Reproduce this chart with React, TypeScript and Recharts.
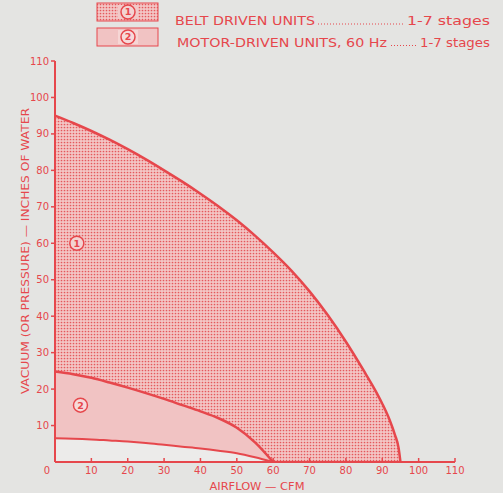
import React from 'react';
import { ComposedChart, Area, XAxis, YAxis, ReferenceDot, Label } from 'recharts';

// Airflow (CFM) sample points shared by every performance envelope
const airflow = [0, 5, 10, 15, 20, 25, 30, 35, 40, 45, 50, 55, 60, 65, 70, 75, 80, 85, 88, 90, 92, 93.5, 94.5, 95];

// Belt driven units, 1-7 stages: upper limit of vacuum/pressure (inches of water)
const beltDriven = [95, 93.0, 90.8, 88.4, 85.8, 83.0, 80.0, 76.9, 73.6, 70.1, 66.3, 62.1, 57.5, 52.5, 46.8, 40.3, 33.0, 24.9, 19.8, 16.0, 11.6, 7.4, 3.8, 0];

// Motor-driven units, 60 Hz: upper and lower limits of the band
const motorUpper = [24.8, 24.1, 23.1, 21.8, 20.4, 18.9, 17.3, 15.6, 13.9, 12.0, 9.4, 5.4, 0, null, null, null, null, null, null, null, null, null, null, null];
const motorLower = [6.5, 6.4, 6.2, 5.9, 5.6, 5.2, 4.7, 4.2, 3.7, 3.1, 2.4, 1.3, 0, null, null, null, null, null, null, null, null, null, null, null];

const xTicks = [0, 10, 20, 30, 40, 50, 60, 70, 80, 90, 100, 110];
const yTicks = [10, 20, 30, 40, 50, 60, 70, 80, 90, 100, 110];

const legendRows = [
  { mark: '1', title: 'BELT DRIVEN UNITS', stages: '1-7 stages', fill: 'url(#beltDots)' },
  { mark: '2', title: 'MOTOR-DRIVEN UNITS, 60 Hz', stages: '1-7 stages', fill: '#f1c3c3' },
];

const regionMarks = [
  { mark: '1', x: 6, y: 60 },
  { mark: '2', x: 7, y: 15.6 },
];

const data = airflow.map((x, i) => ({
  x,
  belt: beltDriven[i],
  motorUpper: motorUpper[i],
  motorLower: motorLower[i],
}));

const RED = '#e6474c';
const FONT = '"DejaVu Sans", Verdana, sans-serif';
const PAPER = '#e4e4e2';

// legend text geometry per row: title start/width, leader start, stages start/width
const legendGeom = [
  { titleX: 175, titleW: 140, leadFrom: 318, stagesX: 407, stagesW: 83 },
  { titleX: 177, titleW: 210, leadFrom: 391, stagesX: 420, stagesW: 70 },
];

const XTick = (props: any) => {
  const { x, y, payload } = props;
  const v = payload.value;
  return (
    <g>
      {v > 0 && <line x1={x} x2={x} y1={y - 5} y2={y - 9} stroke={RED} strokeWidth={1.5} />}
      <text x={v === 0 ? x - 8 : x} y={y} dy="0.71em" textAnchor="middle" fill={RED} fontSize={10} fontFamily={FONT}>
        {v}
      </text>
    </g>
  );
};

const CircledMark = ({ cx, cy, mark, fill }: any) => (
  <g>
    <circle cx={cx} cy={cy} r={7} fill={fill} stroke={RED} strokeWidth={1.5} />
    <text x={cx} y={cy} dy="0.36em" textAnchor="middle" fill={RED} fontSize={9.5} fontWeight="bold" fontFamily={FONT}>
      {mark}
    </text>
  </g>
);

const LegendBlock = () => (
  <g>
    {legendRows.map((r, i) => {
      const g = legendGeom[i];
      const top = 3 + i * 25;
      const mid = top + 9;
      const textY = 20.5 + i * 21.5;
      return (
        <g key={r.mark}>
          <rect x={97} y={top} width={61} height={18} fill={r.fill} stroke={RED} strokeWidth={1} />
          <rect x={118} y={mid - 7} width={20} height={14} fill={i === 0 ? '#f1c9c8' : '#f6d6d5'} stroke="none" />
          <CircledMark cx={128} cy={mid} mark={r.mark} fill={i === 0 ? '#f3d3d2' : '#f6dada'} />
          <text
            x={g.titleX}
            y={textY}
            dy="0.36em"
            fill={RED}
            fontSize={12.5}
            fontFamily={FONT}
            textLength={g.titleW}
            lengthAdjust="spacingAndGlyphs"
          >
            {r.title}
          </text>
          <line x1={g.leadFrom} x2={g.stagesX - 4} y1={textY + 3.5} y2={textY + 3.5} stroke={RED} strokeWidth={1.1} strokeDasharray="1 2" />
          <text
            x={g.stagesX}
            y={textY}
            dy="0.36em"
            fill={RED}
            fontSize={12.5}
            fontFamily={FONT}
            textLength={g.stagesW}
            lengthAdjust="spacingAndGlyphs"
          >
            {r.stages}
          </text>
        </g>
      );
    })}
  </g>
);

export default function App() {
  return (
    <div style={{ position: 'fixed', left: 0, top: 0, width: 503, height: 493, background: PAPER }}>
      <ComposedChart
        width={503}
        height={493}
        data={data}
        margin={{ top: 61, right: 48, bottom: 0, left: 0 }}
      >
        <defs>
          <pattern id="beltDots" width={3} height={3} patternUnits="userSpaceOnUse">
            <rect width={3} height={3} fill="#f3c6c5" />
            <circle cx={1.5} cy={1.5} r={0.85} fill="#e4585c" />
          </pattern>
        </defs>
        <XAxis
          type="number"
          dataKey="x"
          domain={[0, 110]}
          ticks={xTicks}
          interval={0}
          height={31}
          tickLine={false}
          tickSize={3}
          tickMargin={2}
          tick={<XTick />}
          axisLine={{ stroke: RED, strokeWidth: 2 }}
        >
          <Label
            content={() => (
              <text
                x={257}
                y={486}
                dy="0.36em"
                textAnchor="middle"
                fill={RED}
                fontSize={11}
                fontFamily={FONT}
                textLength={95}
                lengthAdjust="spacingAndGlyphs"
              >
                AIRFLOW — CFM
              </text>
            )}
          />
        </XAxis>
        <YAxis
          type="number"
          domain={[0, 110]}
          ticks={yTicks}
          interval={0}
          width={55}
          tickSize={4}
          tickMargin={2}
          tick={{ fill: RED, fontSize: 10, fontFamily: FONT }}
          tickLine={{ stroke: RED, strokeWidth: 1.5 }}
          axisLine={{ stroke: RED, strokeWidth: 2 }}
        >
          <Label
            content={() => (
              <text
                x={25}
                y={251}
                dy="0.36em"
                textAnchor="middle"
                transform="rotate(-90 25 251)"
                fill={RED}
                fontSize={11}
                fontFamily={FONT}
                textLength={286}
                lengthAdjust="spacingAndGlyphs"
              >
                VACUUM (OR PRESSURE) — INCHES OF WATER
              </text>
            )}
          />
        </YAxis>
        <Area
          type="monotone"
          dataKey="belt"
          fill="url(#beltDots)"
          fillOpacity={1}
          stroke={RED}
          strokeWidth={2.5}
          isAnimationActive={false}
        />
        <Area
          type="monotone"
          dataKey="motorUpper"
          fill="#f1c3c3"
          fillOpacity={1}
          stroke={RED}
          strokeWidth={2.5}
          isAnimationActive={false}
        />
        <Area
          type="monotone"
          dataKey="motorLower"
          fill="#ecebea"
          fillOpacity={1}
          stroke={RED}
          strokeWidth={2}
          isAnimationActive={false}
        />
        {regionMarks.map((m) => (
          <ReferenceDot
            key={m.mark}
            x={m.x}
            y={m.y}
            r={7}
            shape={(p: any) => <CircledMark cx={p.cx} cy={p.cy} mark={m.mark} fill={m.mark === '1' ? '#f3d3d2' : '#f6dada'} />}
          />
        ))}
        <LegendBlock />
      </ComposedChart>
    </div>
  );
}
